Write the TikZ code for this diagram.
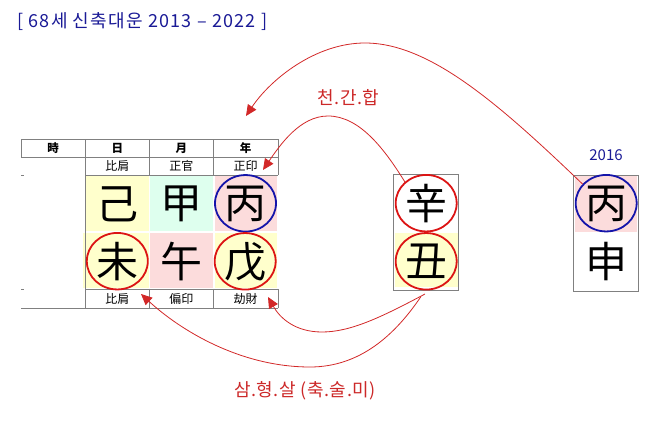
\documentclass[tikz,border=0pt]{standalone}
\usepackage{fontspec}
\setmainfont{Noto Sans CJK KR}
\usetikzlibrary{arrows.meta,shapes.geometric}
\definecolor{gridgray}{RGB}{128,128,128}
\definecolor{cyel}{RGB}{255,255,204}
\definecolor{cmint}{RGB}{222,255,238}
\definecolor{cpink}{RGB}{252,220,220}
\definecolor{titleblue}{RGB}{26,26,150}
\definecolor{labred}{RGB}{204,40,40}
\definecolor{arrred}{RGB}{210,40,40}
\definecolor{ringred}{RGB}{220,20,20}
\definecolor{ringblue}{RGB}{20,20,170}
\tikzset{
  gridline/.style={draw=gridgray, line width=0.8pt},
  hanja/.style={inner sep=0pt, font=\fontsize{42}{42}\selectfont},
  smalllab/.style={inner sep=0pt, font=\fontsize{12}{12}\selectfont},
  hdr/.style={inner sep=0pt, font=\bfseries\fontsize{11.5}{11.5}\selectfont},
  ringr/.style={ellipse, draw=ringred, line width=1.8pt, minimum width=61pt, minimum height=56.5pt, inner sep=0pt},
  ringb/.style={ellipse, draw=ringblue, line width=1.8pt, minimum width=61pt, minimum height=56.5pt, inner sep=0pt},
  conn/.style={draw=arrred, line width=0.8pt, -{Triangle[length=11pt,width=10pt]}},
  redlab/.style={inner sep=0pt, text=labred, font=\fontsize{18}{18}\selectfont\addfontfeature{LetterSpace=3}},
  bluelab/.style={inner sep=0pt, text=titleblue, font=\fontsize{18}{18}\selectfont\addfontfeature{LetterSpace=7}},
}
\begin{document}
\begin{tikzpicture}[x=1pt,y=-1pt]
\useasboundingbox (0,0) rectangle (657,422);
% cell fills
\fill[cyel]  (85.5,176.5) rectangle (148.5,231.5);
\fill[cmint] (150.3,176.5) rectangle (212.7,231.5);
\fill[cpink] (215,176.5) rectangle (276.7,231.5);
\fill[cyel]  (83,233.3) rectangle (148.5,288.5);
\fill[cpink] (150.3,233.3) rectangle (212.7,288.5);
\fill[cyel]  (215,233.3) rectangle (276.7,288.5);
\fill[cyel]  (395,233) rectangle (457.5,287);
\fill[cpink] (575,176) rectangle (636.7,231.7);
% grid
\draw[gridline] (21,139.5) -- (278,139.5);
\draw[gridline] (21,157) -- (278,157);
\draw[gridline] (85,175) -- (278,175);
\draw[gridline] (21,175) -- (24,175);
\draw[gridline] (85,289.5) -- (278,289.5);
\draw[gridline] (21,289.5) -- (24,289.5);
\draw[gridline] (21,308) -- (278,308);
\draw[gridline] (21,139.5) -- (21,157);
\draw[gridline] (85.5,139.5) -- (85.5,308);
\draw[gridline] (149.3,139.5) -- (149.3,175);
\draw[gridline] (149.3,289.5) -- (149.3,308);
\draw[gridline] (213.3,139.5) -- (213.3,175);
\draw[gridline] (213.3,289.5) -- (213.3,308);
\draw[gridline] (278,139.5) -- (278,175);
\draw[gridline] (278,289.5) -- (278,308);
\draw[gridline] (393.3,174.3) rectangle (458.3,290.7);
\draw[gridline] (573,175) rectangle (638.3,291);
% headers
\node[hdr] (hsi) at (53,148.3) {時};
\node[hdr] (hil) at (117.4,148.3) {日};
\node[hdr] (hwol) at (181.3,148.3) {月};
\node[hdr] (hnyeon) at (245.6,148.3) {年};
\node[smalllab] (t1) at (117.4,166) {比肩};
\node[smalllab] (t2) at (181.3,166) {正官};
\node[smalllab] (t3) at (245.6,166) {正印};
\node[smalllab] (b1) at (117.4,298.7) {比肩};
\node[smalllab] (b2) at (181.3,298.7) {偏印};
\node[smalllab] (b3) at (245.6,298.7) {劫財};
% characters
\node[hanja] (gi) at (117.2,204) {己};
\node[hanja] (gap) at (181.5,204) {甲};
\node[hanja] (byeong) at (245.8,204) {丙};
\node[hanja] (mi) at (117.2,261.5) {未};
\node[hanja] (o) at (181.5,261.5) {午};
\node[hanja] (mu) at (245.8,261.5) {戊};
\node[hanja] (sin) at (426,204) {辛};
\node[hanja] (chuk) at (426,261.5) {丑};
\node[hanja] (byeong2) at (606,204) {丙};
\node[hanja] (sinmon) at (606,261.5) {申};
% rings
\node[ringb] (rbyeong) at (245.5,203.3) {};
\node[ringr] (rmi) at (117.3,261.2) {};
\node[ringr] (rmu) at (245.2,261.3) {};
\node[ringr] (rsin) at (426.2,203.2) {};
\node[ringr] (rchuk) at (426.2,261.3) {};
\node[ringb] (rbyeong2) at (606.2,203.2) {};
% labels
\node[bluelab, anchor=west] (title) at (17,22) {[ 68세 신축대운 2013 – 2022 ]};
\node[bluelab, font=\fontsize{15}{15}\selectfont] (y2016) at (606,155.5) {2016};
\node[redlab] (cheongan) at (348.5,97.5) {천.간.합};
\node[redlab] (samhyeong) at (305,391) {삼.형.살 (축.술.미)};
% arrow end points
\coordinate (e1) at (246,116);
\coordinate (e2) at (263,170);
\coordinate (e3) at (268,297);
\coordinate (e4) at (141,294);
\coordinate (s3) at (425,294);
\coordinate (s4) at (421,296.5);
% connectors
\draw[conn] (rbyeong2.141) .. controls (500,105) and (430,43) .. (365,43)
   .. controls (315,43) and (270,80) .. (e1);
\draw[conn] (rsin.135) .. controls (385,150) and (360,116) .. (328,116)
   .. controls (300,116) and (280,145) .. (e2);
\draw[conn] (s3) .. controls (380,318) and (350,332) .. (322,332)
   .. controls (295,332) and (280,318) .. (e3);
\draw[conn] (s4) .. controls (395,335) and (360,367) .. (310,367)
   .. controls (240,367) and (180,330) .. (e4);
\end{tikzpicture}
\end{document}
